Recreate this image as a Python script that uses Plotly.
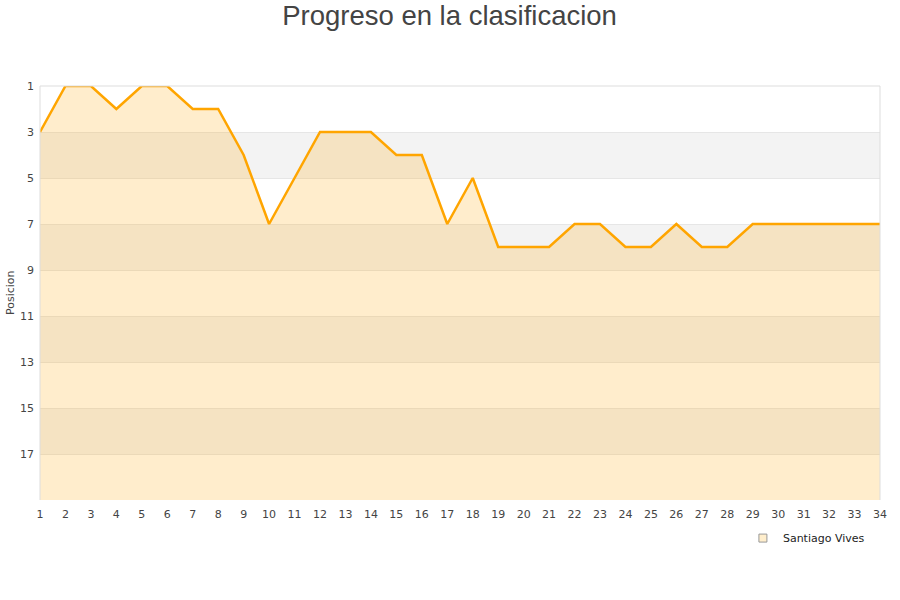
import plotly.graph_objects as go

jornadas = list(range(1, 35))
posiciones = [3, 1, 1, 2, 1, 1, 2, 2, 4, 7, 5, 3, 3, 3, 4, 4, 7, 5, 8, 8, 8, 7, 7, 8, 8, 7, 8, 8, 7, 7, 7, 7, 7, 7]
y_ticks = [1, 3, 5, 7, 9, 11, 13, 15, 17]
bands = [(3, 5), (7, 9), (11, 13), (15, 17)]
equipo = "Santiago Vives"
titulo = "Progreso en la clasificacion"
titulo_y = "Posicion"

fig = go.Figure()

# baseline for filling down to the bottom (position 19)
fig.add_trace(go.Scatter(x=jornadas, y=[19] * len(jornadas), mode="lines",
                         line=dict(width=0), showlegend=False, hoverinfo="skip"))
fig.add_trace(go.Scatter(x=jornadas, y=posiciones, mode="lines", fill="tonexty",
                         fillcolor="rgba(255,165,0,0.2)",
                         line=dict(color="#FFA500", width=2.5),
                         name=equipo, showlegend=False))
# legend-only entry
fig.add_trace(go.Scatter(x=[None], y=[None], mode="markers", name=equipo,
                         marker=dict(symbol="square", size=8, color="#FFEECC",
                                     line=dict(color="#999999", width=1))))

shapes = []
for a, b in bands:
    shapes.append(dict(type="rect", xref="paper", yref="y", x0=0, x1=1, y0=a, y1=b,
                       fillcolor="#F3F3F3", line=dict(width=0), layer="below"))
# plot border (left, top, right)
shapes.append(dict(type="line", xref="paper", yref="paper", x0=0, x1=0, y0=0, y1=1,
                   line=dict(color="#DDDDDD", width=1)))
shapes.append(dict(type="line", xref="paper", yref="paper", x0=0, x1=1, y0=1, y1=1,
                   line=dict(color="#DDDDDD", width=1)))
shapes.append(dict(type="line", xref="paper", yref="paper", x0=1, x1=1, y0=0, y1=1,
                   line=dict(color="#DDDDDD", width=1)))

fig.update_layout(
    width=900, height=600,
    margin=dict(l=40, r=20, t=86, b=100, autoexpand=False),
    paper_bgcolor="white", plot_bgcolor="white",
    title=dict(text=titulo, x=0.4995, xanchor="center", y=0.975, yanchor="middle",
               font=dict(family="Liberation Sans, Arial", size=27.5, color="#444444")),
    font=dict(family="DejaVu Sans, Verdana", size=11, color="#444444"),
    shapes=shapes,
    annotations=[dict(text=titulo_y, xref="paper", yref="paper", x=-0.0357, y=0.5,
                      xanchor="center", yanchor="middle", textangle=-90, showarrow=False,
                      font=dict(size=11, color="#444444"))],
    xaxis=dict(range=[1, 34], tickmode="array", tickvals=jornadas, automargin=False,
               showgrid=False, zeroline=False, showline=False, ticks="",
               ticklabelstandoff=6,
               tickfont=dict(size=11, color="#444444")),
    yaxis=dict(range=[19, 1], tickmode="array", tickvals=y_ticks, automargin=False,
               showgrid=True, gridcolor="#E6E6E6", gridwidth=1, zeroline=False,
               showline=False, ticks="", ticklabelstandoff=5,
               tickfont=dict(size=11, color="#444444")),
    legend=dict(x=0.988, xanchor="right", y=-0.092, yanchor="middle",
                bgcolor="rgba(255,255,255,0)", font=dict(size=11, color="#222222")),
    showlegend=True,
)

fig.write_html("out.html", config={"displayModeBar": False},
               post_script="document.body.style.margin='0';")
